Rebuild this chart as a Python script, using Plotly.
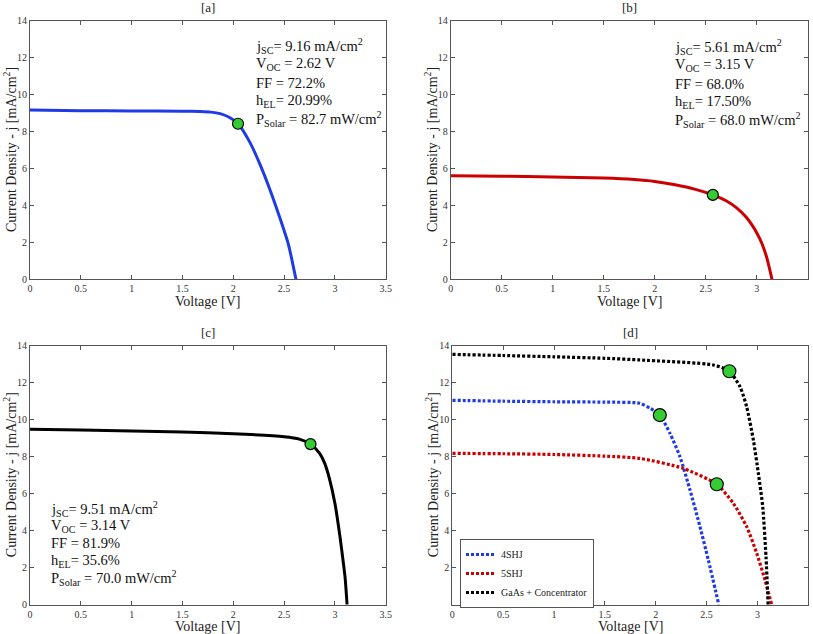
import plotly.graph_objects as go

# ---------------- data ----------------
# Panel a (blue)
va = [0, 0.5, 1.0, 1.5, 1.673, 1.78, 1.87, 1.96, 2.047, 2.165, 2.263, 2.361, 2.46, 2.542, 2.617]
ja = [9.16, 9.13, 9.11, 9.10, 9.08, 9.05, 8.97, 8.77, 8.42, 7.40, 6.22, 4.85, 3.30, 1.90, 0.0]
mpp_a = ([2.047], [8.42])
txt_a = ["j<sub>SC</sub>= 9.16 mA/cm<sup>2</sup>", "V<sub>OC</sub> = 2.62 V", "FF = 72.2%",
         "h<sub>EL</sub>= 20.99%", "P<sub>Solar</sub> = 82.7 mW/cm<sup>2</sup>"]

# Panel b (red)
vb = [0, 0.5, 1.0, 1.5, 1.8, 2.0, 2.2, 2.4, 2.57, 2.7, 2.8, 2.9, 2.95, 3.0, 3.05, 3.1, 3.15]
jb = [5.61, 5.58, 5.54, 5.48, 5.40, 5.30, 5.12, 4.87, 4.57, 4.25, 3.88, 3.35, 2.97, 2.52, 1.95, 1.15, 0.0]
mpp_b = ([2.57], [4.57])
txt_b = ["j<sub>SC</sub>= 5.61 mA/cm<sup>2</sup>", "V<sub>OC</sub> = 3.15 V", "FF = 68.0%",
         "h<sub>EL</sub>= 17.50%", "P<sub>Solar</sub> = 68.0 mW/cm<sup>2</sup>"]

# Panel c (black)
vc = [0, 0.5, 1.0, 1.5, 2.0, 2.5, 2.65, 2.76, 2.85, 2.9, 2.95, 3.0, 3.05, 3.08, 3.1, 3.12]
jc = [9.48, 9.44, 9.39, 9.33, 9.24, 9.08, 8.95, 8.68, 8.18, 7.64, 6.74, 5.48, 3.68, 2.40, 1.50, 0.0]
mpp_c = ([2.76], [8.68])
txt_c = ["j<sub>SC</sub>= 9.51 mA/cm<sup>2</sup>", "V<sub>OC</sub> = 3.14 V", "FF = 81.9%",
         "h<sub>EL</sub>= 35.6%", "P<sub>Solar</sub> = 70.0 mW/cm<sup>2</sup>"]

# Panel d (comparison)
vd_4 = [0, 0.5, 1.0, 1.5, 1.843, 1.944, 2.04, 2.14, 2.238, 2.337, 2.435, 2.517, 2.62]
jd_4 = [11.05, 11.0, 10.97, 10.95, 10.89, 10.62, 10.25, 9.26, 8.0, 6.2, 4.22, 2.42, 0.0]
vd_5 = [0, 0.5, 1.0, 1.5, 1.843, 2.27, 2.6, 2.763, 2.894, 2.993, 3.074, 3.14]
jd_5 = [8.18, 8.16, 8.12, 8.03, 7.91, 7.37, 6.51, 5.48, 4.22, 2.78, 1.34, 0.0]
vd_g = [0, 0.5, 1.0, 1.5, 1.843, 2.566, 2.724, 2.829, 2.894, 2.96, 3.009, 3.052, 3.084, 3.105]
jd_g = [13.53, 13.47, 13.40, 13.32, 13.23, 12.96, 12.62, 11.78, 10.7, 8.9, 7.1, 5.3, 2.6, 0.0]
mpp_d_v = [2.04, 2.6, 2.724]
mpp_d_j = [10.25, 6.51, 12.62]
names_d = ["4SHJ", "5SHJ", "GaAs + Concentrator"]

titles = ["[a]", "[b]", "[c]", "[d]"]
xtitle = "Voltage [V]"
ytitle = "Current Density - j [mA/cm<sup>2</sup>]"
xticks = [0, 0.5, 1, 1.5, 2, 2.5, 3, 3.5]
yticks = [0, 2, 4, 6, 8, 10, 12, 14]
yticks_d = [2, 4, 6, 8, 10, 12, 14]

# ---------------- styling ----------------
W, H = 813, 634
FONT = "Liberation Serif, Times New Roman, serif"
BLUE = "#1f3be6"
RED = "#cc0000"
BLACK = "#000000"
GREEN = "#33cc33"
AX = "#555555"
TXT = "#222222"

def px(x):
    return x / W

def py(y):
    return 1 - y / H

# panel boxes in pixels: (left, right, top, bottom)
boxes = {
    "a": (30, 385.7, 20.7, 279.3),
    "b": (450.7, 807.7, 20.7, 279.3),
    "c": (30, 385.7, 345.7, 604.7),
    "d": (452.3, 808.3, 345.7, 604.7),
}

fig = go.Figure()

def add_line(v, j, color, ax, name=None, dash="solid", width=3, showlegend=False):
    fig.add_trace(go.Scatter(
        x=v, y=j, mode="lines", name=name, showlegend=showlegend,
        line=dict(color=color, width=width, dash=dash, shape="spline", smoothing=0.6),
        xaxis="x" + ax, yaxis="y" + ax, hoverinfo="skip"))

def add_mpp(v, j, ax, size=11):
    fig.add_trace(go.Scatter(
        x=v, y=j, mode="markers", showlegend=False,
        marker=dict(color=GREEN, size=size, line=dict(color="black", width=1.2)),
        xaxis="x" + ax, yaxis="y" + ax, hoverinfo="skip"))

add_line(va, ja, BLUE, "")
add_mpp(*mpp_a, "")
add_line(vb, jb, RED, "2")
add_mpp(*mpp_b, "2")
add_line(vc, jc, BLACK, "3")
add_mpp(*mpp_c, "3")
dot = "3px,2px"
add_line(vd_4, jd_4, BLUE, "4", name=names_d[0], dash=dot, width=3.2, showlegend=True)
add_line(vd_5, jd_5, RED, "4", name=names_d[1], dash=dot, width=3.2, showlegend=True)
add_line(vd_g, jd_g, BLACK, "4", name=names_d[2], dash=dot, width=3.2, showlegend=True)
add_mpp(mpp_d_v, mpp_d_j, "4", size=13)

layout = dict(
    width=W, height=H, paper_bgcolor="white", plot_bgcolor="white",
    margin=dict(l=0, r=0, t=0, b=0),
    font=dict(family=FONT, color=TXT),
    showlegend=True,
    legend=dict(x=px(460), y=py(539), xanchor="left", yanchor="top",
                bgcolor="white", bordercolor=AX, borderwidth=1,
                font=dict(family=FONT, size=10, color=TXT),
                tracegroupgap=0),
)

keys = ["a", "b", "c", "d"]
suffix = ["", "2", "3", "4"]
for k, s in zip(keys, suffix):
    l, r, t, b = boxes[k]
    common = dict(showline=True, linecolor=AX, linewidth=1, mirror="ticks",
                  ticks="inside", ticklen=4, tickcolor=AX, showgrid=False, zeroline=False,
                  automargin=False,
                  tickfont=dict(family=FONT, size=10, color="#333333"))
    layout["xaxis" + s] = dict(domain=[px(l), px(r)], anchor="y" + s, range=[0, 3.5],
                               tickvals=xticks, ticktext=[str(t_) for t_ in xticks], **common)
    layout["yaxis" + s] = dict(domain=[py(b), py(t)], anchor="x" + s, range=[0, 14],
                               tickvals=(yticks_d if k == "d" else yticks), **common)
fig.update_layout(**layout)

def ann(text, x, y, size, angle=0, xanchor="center", color=TXT):
    fig.add_annotation(text=text, x=px(x), y=py(y), xref="paper", yref="paper",
                       showarrow=False, textangle=angle,
                       font=dict(family=FONT, size=size, color=color),
                       xanchor=xanchor, yanchor="middle")

# panel titles and axis titles
ytitle_x = {"a": 10, "b": 431, "c": 10, "d": 432}
for k, t in zip(keys, titles):
    l, r, top, bot = boxes[k]
    cx = (l + r) / 2
    ann(t, cx, top - 13, 13)
    ann(xtitle, cx, bot + 22, 14)
    ann(ytitle, ytitle_x[k], (top + bot) / 2, 14, angle=-90)

def add_text_block(lines, x0, y0, dy=18.3):
    for i, line in enumerate(lines):
        ann(line, x0, y0 + i * dy, 14.5, xanchor="left", color="#111111")

add_text_block(txt_a, 254, 46)
add_text_block(txt_b, 673, 47)
add_text_block(txt_c, 49, 509, dy=17.2)

fig.write_html("out.html", config={"displayModeBar": False},
               post_script="document.body.style.margin='0';")
